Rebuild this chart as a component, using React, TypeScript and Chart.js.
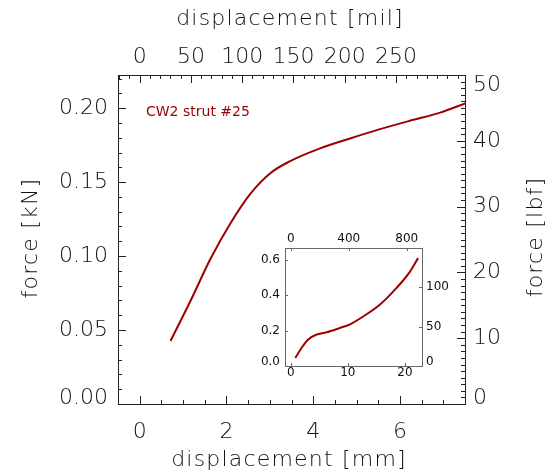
import React, { useEffect, useRef } from "react";
import { Chart, registerables } from "chart.js";
Chart.register(...registerables);

// ---------- data ----------
const mainDispMm = [0.71, 1.17, 1.63, 2.09, 2.55, 3.01, 3.47, 4.16, 4.85, 5.54, 6.23, 6.93, 7.53];
const mainForceKn = [0.0426, 0.0696, 0.098, 0.122, 0.142, 0.156, 0.1642, 0.1728, 0.1795, 0.1858, 0.1915, 0.197, 0.2035];

const insetDispMm = [0.8, 2.1, 3.0, 4.5, 6.2, 8.6, 10.3, 12.7, 15.6, 18.5, 20.9, 22.3];
const insetForceKn = [0.046, 0.1115, 0.149, 0.177, 0.19, 0.215, 0.234, 0.28, 0.346, 0.44, 0.534, 0.61];

const mainMmTicks = [0, 2, 4, 6];
const mainMilTicks = [0, 50, 100, 150, 200, 250];
const mainKnTicks = [0, 0.05, 0.1, 0.15, 0.2];
const mainLbfTicks = [0, 10, 20, 30, 40, 50];

const insetMmTicks = [0, 10, 20];
const insetMilTicks = [0, 400, 800];
const insetKnTicks = [0, 0.2, 0.4, 0.6];
const insetLbfTicks = [0, 50, 100];

const curveLabel = "CW2 strut #25";
const titleBottom = "displacement [mm]";
const titleTop = "displacement [mil]";
const titleLeft = "force [kN]";
const titleRight = "force [lbf]";

const LBF_PER_KN = 224.809;
const MAIN_MIL_PER_MM = 42.3;
const INSET_MIL_PER_MM = 39.37;

const RED = "#9c0000";
const INK = "#111";
const FONT_FAMILY = "'DejaVu Sans', sans-serif";
const MAIN_FONT = `200 22px ${FONT_FAMILY}`;
const INSET_FONT = `12px ${FONT_FAMILY}`;

type TickSpec = { id: string; edge: "bottom" | "top" | "left" | "right"; major: number[]; minorStep?: number; majorLen: number; minorLen: number };

const inwardTicks = {
  id: "inwardTicks",
  afterDraw(chart: any, _args: any, opts: any) {
    const { ctx, chartArea: a } = chart;
    ctx.save();
    ctx.strokeStyle = opts.color;
    ctx.lineWidth = 1;
    const specs: TickSpec[] = opts.specs || [];
    for (const sp of specs) {
      const s = chart.scales[sp.id];
      const vals: { v: number; len: number }[] = [];
      sp.major.forEach((v) => vals.push({ v, len: sp.majorLen }));
      if (sp.minorStep) {
        const start = Math.ceil(s.min / sp.minorStep);
        const end = Math.floor(s.max / sp.minorStep);
        for (let i = start; i <= end; i++) {
          const v = i * sp.minorStep;
          if (!sp.major.some((m) => Math.abs(m - v) < sp.minorStep! * 1e-3)) vals.push({ v, len: sp.minorLen });
        }
      }
      ctx.beginPath();
      for (const { v, len } of vals) {
        const p = s.getPixelForValue(v);
        if (sp.edge === "bottom" || sp.edge === "top") {
          const x = Math.round(p) + 0.5;
          if (x < a.left - 0.5 || x > a.right + 0.5) continue;
          const y0 = sp.edge === "bottom" ? a.bottom : a.top;
          const dir = sp.edge === "bottom" ? -1 : 1;
          ctx.moveTo(x, y0);
          ctx.lineTo(x, y0 + dir * len);
        } else {
          const y = Math.round(p) + 0.5;
          if (y < a.top - 0.5 || y > a.bottom + 0.5) continue;
          const x0 = sp.edge === "left" ? a.left : a.right;
          const dir = sp.edge === "left" ? 1 : -1;
          ctx.moveTo(x0, y);
          ctx.lineTo(x0 + dir * len, y);
        }
      }
      ctx.stroke();
    }
    ctx.restore();
  },
};

// vertical-axis labels drawn at the scale's pixel for each value, end labels nudged inside (as in the original)
const yLabels = {
  id: "yLabels",
  afterDraw(chart: any, _args: any, opts: any) {
    const { ctx, chartArea: a } = chart;
    for (const ax of opts.axes || []) {
      const s = chart.scales[ax.id];
      ctx.save();
      ctx.font = ax.font;
      ctx.fillStyle = ax.color;
      ctx.textBaseline = "middle";
      ctx.textAlign = ax.side === "left" ? "right" : "left";
      const x = ax.side === "left" ? a.left - ax.gap : a.right + ax.gap;
      for (const v of ax.values) {
        let y = s.getPixelForValue(v);
        y = Math.max(a.top + ax.topInset, Math.min(a.bottom - ax.bottomInset, y));
        ctx.fillText(ax.format(v), x, y);
      }
      ctx.restore();
    }
  },
};

const textsPlugin = {
  id: "texts",
  afterDraw(chart: any, _args: any, opts: any) {
    const { ctx } = chart;
    for (const t of opts.items || []) {
      ctx.save();
      ctx.font = t.font;
      ctx.fillStyle = t.color;
      ctx.textAlign = t.align || "center";
      ctx.textBaseline = "middle";
      if (t.spacing) (ctx as any).letterSpacing = t.spacing;
      ctx.translate(t.x, t.y);
      if (t.rot) ctx.rotate(t.rot);
      ctx.fillText(t.text, 0, 0);
      ctx.restore();
    }
  },
};

function fixedTicks(values: number[]) {
  return (s: any) => {
    s.ticks = values.map((v) => ({ value: v }));
  };
}

export default function App() {
  const mainRef = useRef<HTMLCanvasElement>(null);
  const insetRef = useRef<HTMLCanvasElement>(null);

  useEffect(() => {
    document.body.style.margin = "0";
    const mainFont = { family: FONT_FAMILY, size: 22, weight: "200" as any };
    const axisBorder = { display: true, color: "#222", width: 1 };
    const noGrid = { display: false, drawTicks: false };

    const main = new Chart(mainRef.current!, {
      type: "line",
      data: {
        datasets: [
          {
            data: mainDispMm.map((x, i) => ({ x, y: mainForceKn[i] })),
            borderColor: RED,
            borderWidth: 2,
            pointRadius: 0,
            cubicInterpolationMode: "monotone",
            xAxisID: "x",
            yAxisID: "y",
          },
        ],
      },
      options: {
        animation: false,
        responsive: false,
        devicePixelRatio: 1,
        layout: { padding: 0 },
        plugins: {
          legend: { display: false },
          tooltip: { enabled: false },
          inwardTicks: {
            color: "#222",
            specs: [
              { id: "x", edge: "bottom", major: mainMmTicks, minorStep: 0.5, majorLen: 8, minorLen: 4 },
              { id: "x2", edge: "top", major: mainMilTicks, minorStep: 10, majorLen: 8, minorLen: 4 },
              { id: "y", edge: "left", major: mainKnTicks, minorStep: 0.01, majorLen: 8, minorLen: 4 },
              { id: "y2", edge: "right", major: mainLbfTicks, minorStep: 1, majorLen: 8, minorLen: 4 },
            ],
          },
          yLabels: {
            axes: [
              { id: "y", side: "left", gap: 10, values: mainKnTicks, format: (v: number) => v.toFixed(2), font: MAIN_FONT, color: INK, topInset: 10, bottomInset: 6 },
              { id: "y2", side: "right", gap: 8, values: mainLbfTicks, format: (v: number) => String(v), font: MAIN_FONT, color: INK, topInset: 10, bottomInset: 6 },
            ],
          },
          texts: {
            items: [
              { text: titleBottom, x: 289, y: 460, font: MAIN_FONT, color: INK, spacing: "1.2px" },
              { text: titleTop, x: 290, y: 19, font: MAIN_FONT, color: INK, spacing: "1.2px" },
              { text: titleLeft, x: 31, y: 238, rot: -Math.PI / 2, font: MAIN_FONT, color: INK, spacing: "1.2px" },
              { text: titleRight, x: 536, y: 237, rot: -Math.PI / 2, font: MAIN_FONT, color: INK, spacing: "1.2px" },
              { text: curveLabel, x: 146, y: 112, align: "left", font: `14px ${FONT_FAMILY}`, color: RED },
            ],
          },
        } as any,
        scales: {
          x: {
            type: "linear",
            position: "bottom",
            min: -0.5,
            max: 7.5,
            grid: noGrid,
            border: axisBorder,
            ticks: { font: mainFont, color: INK, padding: 15, maxRotation: 0, autoSkip: false, callback: (v: any) => String(v) },
            afterBuildTicks: fixedTicks(mainMmTicks),
            afterFit: (s: any) => { s.height = 71; },
          },
          x2: {
            type: "linear",
            position: "top",
            min: -0.5 * MAIN_MIL_PER_MM,
            max: 7.5 * MAIN_MIL_PER_MM,
            grid: noGrid,
            border: axisBorder,
            ticks: { font: mainFont, color: INK, padding: 5, maxRotation: 0, autoSkip: false, callback: (v: any) => String(v) },
            afterBuildTicks: fixedTicks(mainMilTicks),
            afterFit: (s: any) => { s.height = 75; },
          },
          y: {
            type: "linear",
            position: "left",
            min: 0,
            max: 50 / LBF_PER_KN,
            grid: noGrid,
            border: axisBorder,
            ticks: { display: false },
            afterBuildTicks: fixedTicks(mainKnTicks),
            afterFit: (s: any) => { s.width = 118; },
          },
          y2: {
            type: "linear",
            position: "right",
            min: 0,
            max: 50,
            grid: noGrid,
            border: axisBorder,
            ticks: { display: false },
            afterBuildTicks: fixedTicks(mainLbfTicks),
            afterFit: (s: any) => { s.width = 90; },
          },
        },
      },
      plugins: [inwardTicks, yLabels, textsPlugin],
    } as any);

    const insetFont = { family: FONT_FAMILY, size: 12 };
    const insetBorder = { display: true, color: "#666", width: 1 };
    const inset = new Chart(insetRef.current!, {
      type: "line",
      data: {
        datasets: [
          {
            data: insetDispMm.map((x, i) => ({ x, y: insetForceKn[i] })),
            borderColor: RED,
            borderWidth: 2,
            pointRadius: 0,
            cubicInterpolationMode: "monotone",
            xAxisID: "x",
            yAxisID: "y",
          },
        ],
      },
      options: {
        animation: false,
        responsive: false,
        devicePixelRatio: 1,
        layout: { padding: 0 },
        plugins: {
          legend: { display: false },
          tooltip: { enabled: false },
          inwardTicks: {
            color: "#666",
            specs: [
              { id: "x", edge: "bottom", major: insetMmTicks, majorLen: 3, minorLen: 0 },
              { id: "x2", edge: "top", major: insetMilTicks, majorLen: 3, minorLen: 0 },
              { id: "y", edge: "left", major: insetKnTicks, majorLen: 3, minorLen: 0 },
              { id: "y2", edge: "right", major: insetLbfTicks, majorLen: 3, minorLen: 0 },
            ],
          },
          yLabels: {
            axes: [
              { id: "y", side: "left", gap: 5, values: insetKnTicks, format: (v: number) => v.toFixed(1), font: INSET_FONT, color: INK, topInset: 5, bottomInset: 4 },
              { id: "y2", side: "right", gap: 4, values: insetLbfTicks, format: (v: number) => String(v), font: INSET_FONT, color: INK, topInset: 5, bottomInset: 4 },
            ],
          },
        } as any,
        scales: {
          x: {
            type: "linear", position: "bottom", min: -1, max: 23,
            grid: noGrid, border: insetBorder,
            ticks: { font: insetFont, color: INK, padding: 0, maxRotation: 0, autoSkip: false, callback: (v: any) => String(v) },
            afterBuildTicks: fixedTicks(insetMmTicks),
            afterFit: (s: any) => { s.height = 24; },
          },
          x2: {
            type: "linear", position: "top", min: -1 * INSET_MIL_PER_MM, max: 23 * INSET_MIL_PER_MM,
            grid: noGrid, border: insetBorder,
            ticks: { font: insetFont, color: INK, padding: 2, maxRotation: 0, autoSkip: false, callback: (v: any) => String(v) },
            afterBuildTicks: fixedTicks(insetMilTicks),
            afterFit: (s: any) => { s.height = 22; },
          },
          y: {
            type: "linear", position: "left", min: 0, max: 150 / LBF_PER_KN,
            grid: noGrid, border: insetBorder,
            ticks: { display: false },
            afterBuildTicks: fixedTicks(insetKnTicks),
            afterFit: (s: any) => { s.width = 35; },
          },
          y2: {
            type: "linear", position: "right", min: 0, max: 150,
            grid: noGrid, border: insetBorder,
            ticks: { display: false },
            afterBuildTicks: fixedTicks(insetLbfTicks),
            afterFit: (s: any) => { s.width = 38; },
          },
        },
      },
      plugins: [inwardTicks, yLabels],
    } as any);

    return () => {
      main.destroy();
      inset.destroy();
    };
  }, []);

  return (
    <div style={{ position: "relative", width: 555, height: 475, background: "#fff" }}>
      <canvas ref={mainRef} width={555} height={475} style={{ position: "absolute", left: 0, top: 0, width: 555, height: 475 }} />
      <canvas ref={insetRef} width={210} height={164} style={{ position: "absolute", left: 250, top: 226, width: 210, height: 164 }} />
    </div>
  );
}
